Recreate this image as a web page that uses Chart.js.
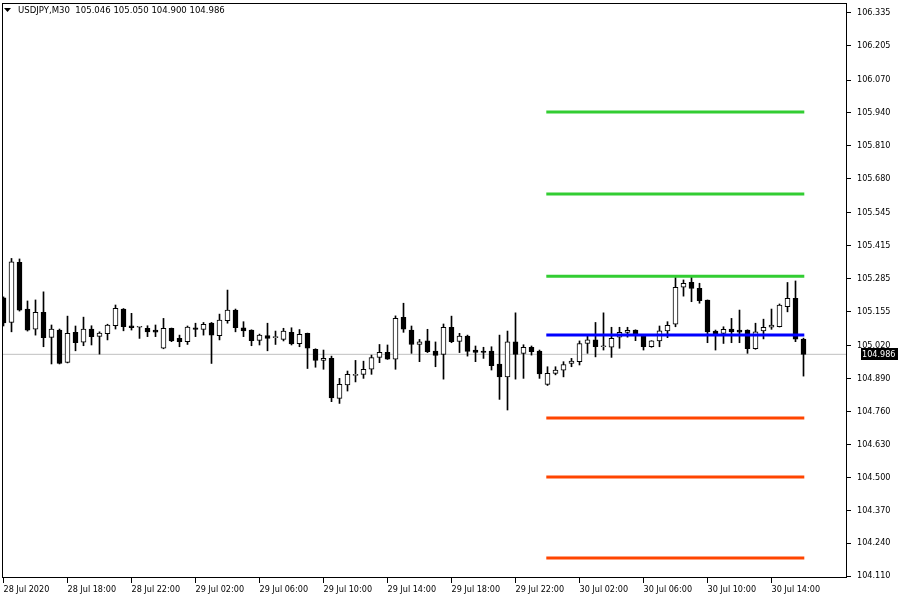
<!DOCTYPE html>
<html>
<head>
<meta charset="utf-8">
<script src="https://cdn.jsdelivr.net/npm/chart.js@4/dist/chart.umd.min.js"></script>
<style>
  html, body { margin: 0; padding: 0; background: #ffffff; }
  #c { display: block; }
</style>
</head>
<body>
<canvas id="c" width="900" height="600"></canvas>
<script>
// ---------- DATA ----------
const symbolTitle = "USDJPY,M30";
const opens = [
  105.209,105.112,105.350,105.165,105.085,105.152,105.053,105.082,104.954,105.073,
  105.034,105.086,105.057,105.068,105.099,105.165,105.099,105.093,105.089,105.082,
  105.010,105.089,105.049,105.036,105.091,105.084,105.110,105.060,105.119,105.161,
  105.091,105.082,105.041,105.060,105.052,105.045,105.073,105.028,105.069,105.006,
  104.962,104.970,104.812,104.865,104.903,104.907,104.927,104.974,104.994,104.967,
  105.132,105.082,105.025,105.039,104.999,104.986,105.093,105.037,105.058,105.003,
  104.999,104.999,104.948,104.897,105.035,104.990,105.014,104.999,104.867,104.911,
  104.923,104.950,104.957,105.029,105.043,105.016,105.014,105.054,105.073,105.082,
  105.058,105.016,105.039,105.079,105.105,105.251,105.271,105.247,105.200,105.078,
  105.069,105.086,105.082,105.082,105.008,105.079,105.093,105.095,105.174,105.207,
  105.046
];
const highs = [
  105.213,105.365,105.363,105.197,105.201,105.233,105.102,105.086,105.137,105.098,
  105.133,105.099,105.075,105.105,105.181,105.167,105.148,105.094,105.099,105.102,
  105.128,105.090,105.062,105.098,105.109,105.112,105.112,105.145,105.240,105.165,
  105.115,105.083,105.066,105.109,105.078,105.089,105.091,105.084,105.070,105.008,
  105.003,104.979,104.891,104.920,104.962,104.959,104.983,105.025,105.023,105.138,
  105.188,105.098,105.045,105.085,105.035,105.106,105.137,105.069,105.062,105.019,
  105.014,105.016,105.062,105.078,105.150,105.024,105.019,105.003,104.937,104.937,
  104.957,104.970,105.039,105.060,105.112,105.150,105.093,105.093,105.093,105.083,
  105.062,105.040,105.098,105.115,105.290,105.280,105.293,105.267,105.201,105.082,
  105.095,105.128,105.161,105.083,105.109,105.125,105.165,105.185,105.270,105.276,
  105.050
];
const lows = [
  105.098,105.075,105.157,105.078,105.062,105.016,104.948,104.948,104.952,105.000,
  105.020,105.023,104.987,105.043,105.086,105.079,105.082,105.049,105.056,105.056,
  105.008,105.036,105.016,105.025,105.056,105.062,104.950,105.043,105.109,105.075,
  105.056,105.020,105.023,105.000,105.025,105.039,105.023,105.016,104.930,104.935,
  104.927,104.799,104.792,104.841,104.877,104.891,104.907,104.953,104.966,104.927,
  105.073,104.990,104.957,104.993,104.937,104.888,105.032,104.993,104.979,104.957,
  104.970,104.924,104.808,104.766,104.888,104.891,104.983,104.891,104.863,104.905,
  104.897,104.937,104.944,104.990,104.976,105.003,104.974,105.010,105.054,105.040,
  105.003,105.014,105.016,105.052,105.095,105.216,105.194,105.188,105.032,105.003,
  105.029,105.032,105.032,104.990,105.006,105.047,105.085,105.094,105.154,105.036,
  104.900
];
const closes = [
  105.110,105.352,105.161,105.082,105.152,105.052,105.086,104.950,105.069,105.032,
  105.086,105.056,105.070,105.102,105.168,105.095,105.091,105.093,105.075,105.074,
  105.089,105.039,105.036,105.094,105.084,105.105,105.062,105.121,105.161,105.091,
  105.079,105.040,105.062,105.049,105.052,105.078,105.027,105.065,105.010,104.962,
  104.970,104.814,104.867,104.907,104.905,104.927,104.973,104.994,104.967,105.128,
  105.085,105.025,105.035,104.997,104.982,105.093,105.036,105.058,104.998,104.994,
  104.994,104.941,104.897,105.035,104.986,105.014,104.997,104.909,104.911,104.924,
  104.946,104.959,105.029,105.043,105.016,105.017,105.049,105.073,105.081,105.061,
  105.016,105.039,105.079,105.101,105.251,105.267,105.247,105.198,105.075,105.065,
  105.085,105.075,105.074,105.008,105.075,105.093,105.102,105.181,105.207,105.046,
  104.986
];
// horizontal levels (pivot-style lines)
const resistanceLevels = [105.944, 105.620, 105.295];
const pivotLevel = 105.062;
const supportLevels = [104.734, 104.501, 104.181];
const levelSpan = [67.85, 100.1];           // in bar index units
// axis ticks
const priceTicks = [106.335,106.205,106.070,105.940,105.810,105.680,105.545,105.415,
  105.285,105.155,105.020,104.890,104.760,104.630,104.500,104.370,104.240,104.110];
const timeTickIndex = [0,8,16,24,32,40,48,56,64,72,80,88,96];
const timeTickLabels = ["28 Jul 2020","28 Jul 18:00","28 Jul 22:00","29 Jul 02:00",
  "29 Jul 06:00","29 Jul 10:00","29 Jul 14:00","29 Jul 18:00","29 Jul 22:00",
  "30 Jul 02:00","30 Jul 06:00","30 Jul 10:00","30 Jul 14:00"];

// ---------- STYLE ----------
const FONT = '"DejaVu Sans Condensed", "DejaVu Sans", sans-serif';
const FONT_SIZE = 9;
const X_MIN = -0.1875, X_MAX = 105.4375;
const Y_MIN = 104.1021, Y_MAX = 106.3745;

const lastClose = closes[closes.length - 1];
const idx = opens.map((_, i) => i);

const wickData = idx.map(i => ({ x: i, y: [lows[i], highs[i]] }));
const bodyData = idx.map(i => ({ x: i, y: [opens[i], closes[i]] }));
const bodyColors = idx.map(i => closes[i] >= opens[i] ? '#ffffff' : '#000000');

function levelDataset(v, color, order) {
  return {
    type: 'line',
    data: [{ x: levelSpan[0], y: v }, { x: levelSpan[1], y: v }],
    borderColor: color, borderWidth: 3, pointRadius: 0,
    borderCapStyle: 'butt', order: order
  };
}

const datasets = [];
resistanceLevels.forEach(v => datasets.push(levelDataset(v, '#32CD32', 0)));
datasets.push(levelDataset(pivotLevel, '#0000FF', 0));
supportLevels.forEach(v => datasets.push(levelDataset(v, '#FF4500', 0)));
datasets.push({
  type: 'bar', data: bodyData, backgroundColor: bodyColors,
  borderColor: '#000000', borderWidth: 1, borderSkipped: false,
  barThickness: 5, grouped: false, minBarLength: 1, order: 4
});
datasets.push({
  type: 'bar', data: wickData, backgroundColor: '#000000',
  borderWidth: 0, barThickness: 1, grouped: false, order: 5
});
datasets.push({
  type: 'line',
  data: [{ x: X_MIN, y: lastClose }, { x: X_MAX, y: lastClose }],
  borderColor: '#C0C0C0', borderWidth: 1, pointRadius: 0, order: 10
});

const decorPlugin = {
  id: 'decor',
  afterDraw(chart) {
    const { ctx, chartArea: a, scales: { y } } = chart;
    ctx.save();
    // frame
    ctx.strokeStyle = '#000'; ctx.lineWidth = 1;
    ctx.strokeRect(Math.round(a.left) + 0.5, Math.round(a.top) + 0.5,
      Math.round(a.right - a.left) - 1, Math.round(a.bottom - a.top) - 1);
    // current price box
    const py = Math.round(y.getPixelForValue(lastClose));
    ctx.fillStyle = '#000';
    ctx.fillRect(Math.round(a.right) + 14, py - 6, 37, 12);
    ctx.fillStyle = '#fff';
    ctx.font = FONT_SIZE + 'px ' + FONT;
    ctx.textBaseline = 'middle'; ctx.textAlign = 'left';
    ctx.fillText(lastClose.toFixed(3), Math.round(a.right) + 15, py + 0.5);
    // header
    ctx.fillStyle = '#000';
    ctx.beginPath();
    ctx.moveTo(4, 8); ctx.lineTo(11, 8); ctx.lineTo(7.5, 12); ctx.closePath(); ctx.fill();
    const hdr = symbolTitle + '  ' + opens[opens.length - 1].toFixed(3) + ' ' +
      highs[highs.length - 1].toFixed(3) + ' ' + lows[lows.length - 1].toFixed(3) + ' ' +
      lastClose.toFixed(3);
    ctx.font = '9.5px ' + FONT;
    ctx.fillText(hdr, 18, 10.5);
    ctx.restore();
  }
};

Chart.defaults.font.family = FONT;
Chart.defaults.font.size = FONT_SIZE;
Chart.defaults.color = '#000000';

new Chart(document.getElementById('c'), {
  type: 'bar',
  data: { datasets },
  options: {
    responsive: false, animation: false, devicePixelRatio: 1,
    layout: { padding: { left: 2, top: 3, right: 0, bottom: 0 } },
    plugins: { legend: { display: false }, tooltip: { enabled: false } },
    scales: {
      x: {
        type: 'linear', min: X_MIN, max: X_MAX, offset: false,
        grid: { display: true, drawOnChartArea: false, drawTicks: true, tickLength: 5,
                color: '#000', offset: false },
        border: { display: false },
        afterBuildTicks: s => { s.ticks = timeTickIndex.map(v => ({ value: v })); },
        afterFit: s => { s.height = 22; s.paddingLeft = 0; s.paddingRight = 0; },
        ticks: {
          autoSkip: false, maxRotation: 0, align: 'start', padding: 1,
          callback: (v) => { const k = timeTickIndex.indexOf(v); return k >= 0 ? timeTickLabels[k] : ''; }
        }
      },
      y: {
        type: 'linear', position: 'right', min: Y_MIN, max: Y_MAX,
        grid: { display: true, drawOnChartArea: false, drawTicks: true, tickLength: 4, color: '#000' },
        border: { display: false },
        afterBuildTicks: s => { s.ticks = priceTicks.map(v => ({ value: v })); },
        afterFit: s => { s.width = 53; s.paddingTop = 0; s.paddingBottom = 0; },
        ticks: {
          autoSkip: false, padding: 6,
          callback: v => Number(v).toFixed(3)
        }
      }
    }
  },
  plugins: [decorPlugin]
});
</script>
</body>
</html>
